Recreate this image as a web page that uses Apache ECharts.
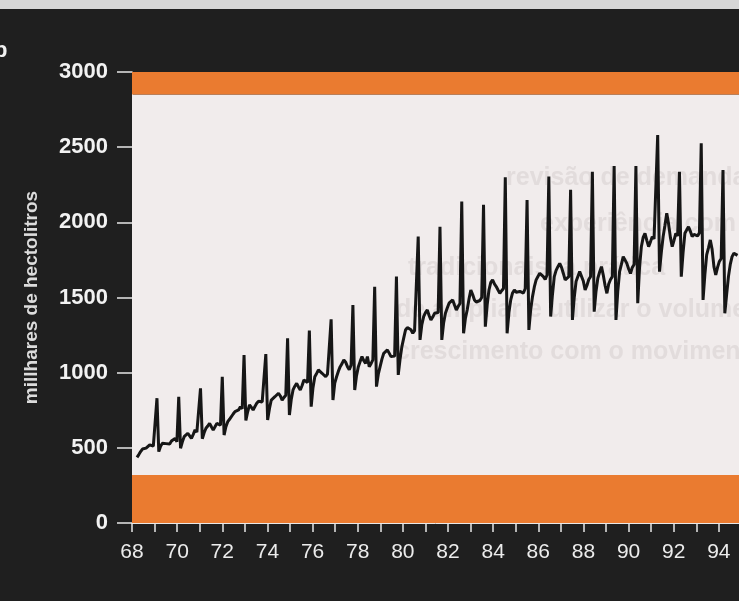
<!DOCTYPE html>
<html>
<head>
<meta charset="utf-8">
<script src="https://cdn.jsdelivr.net/npm/echarts@6/dist/echarts.min.js"></script>
<style>
  html, body { margin: 0; padding: 0; background: #1f1f1f; }
  #chart { width: 739px; height: 601px; }
</style>
</head>
<body>
<div id="chart"></div>
<script>
// monthly production, Jan..Dec, thousand hectolitres
const p1968 = [437, 455, 475, 492, 505, 498, 510, 520, 519, 512, 508, 830];
const p1969 = [475, 510, 530, 541, 528, 519, 525, 545, 552, 563, 541, 840];
const p1970 = [497, 540, 574, 585, 597, 580, 563, 590, 619, 605, 597, 896];
const p1971 = [560, 600, 630, 645, 663, 640, 619, 640, 663, 670, 650, 973];
const p1972 = [585, 640, 674, 690, 707, 725, 741, 730, 752, 774, 760, 1118];
const p1973 = [682, 740, 785, 770, 752, 775, 796, 810, 818, 805, 796, 1124];
const p1974 = [685, 760, 818, 830, 840, 850, 863, 845, 818, 835, 850, 1229];
const p1975 = [718, 820, 885, 910, 929, 905, 885, 915, 951, 940, 935, 1280];
const p1976 = [774, 900, 973, 995, 1018, 1005, 996, 985, 973, 990, 1000, 1355];
const p1977 = [818, 930, 973, 1010, 1040, 1060, 1085, 1070, 1040, 1020, 1050, 1450];
const p1978 = [885, 980, 1040, 1075, 1107, 1080, 1062, 1107, 1040, 1060, 1085, 1572];
const p1979 = [907, 990, 1040, 1090, 1129, 1140, 1151, 1130, 1107, 1120, 1110, 1639];
const p1980 = [985, 1090, 1173, 1230, 1284, 1300, 1306, 1285, 1262, 1280, 1270, 1905];
const p1981 = [1218, 1320, 1373, 1400, 1417, 1380, 1350, 1370, 1395, 1385, 1400, 1971];
const p1982 = [1218, 1330, 1395, 1430, 1462, 1475, 1484, 1450, 1417, 1440, 1460, 2138];
const p1983 = [1262, 1360, 1417, 1490, 1550, 1520, 1484, 1470, 1462, 1480, 1500, 2116];
const p1984 = [1306, 1450, 1550, 1600, 1617, 1590, 1573, 1550, 1528, 1545, 1560, 2300];
const p1985 = [1262, 1400, 1484, 1530, 1550, 1535, 1528, 1540, 1550, 1530, 1560, 2149];
const p1986 = [1284, 1420, 1506, 1570, 1617, 1640, 1661, 1650, 1639, 1620, 1650, 2304];
const p1987 = [1373, 1520, 1639, 1680, 1705, 1727, 1700, 1660, 1617, 1630, 1639, 2216];
const p1988 = [1351, 1500, 1606, 1640, 1672, 1660, 1610, 1550, 1580, 1620, 1639, 2337];
const p1989 = [1406, 1540, 1628, 1670, 1705, 1650, 1580, 1528, 1590, 1620, 1639, 2375];
const p1990 = [1351, 1540, 1672, 1720, 1772, 1760, 1727, 1690, 1660, 1700, 1720, 2375];
const p1991 = [1462, 1700, 1838, 1900, 1927, 1880, 1838, 1870, 1905, 1890, 1900, 2581];
const p1992 = [1672, 1800, 1905, 1980, 2060, 1990, 1900, 1838, 1880, 1927, 1910, 2337];
const p1993 = [1639, 1800, 1927, 1950, 1971, 1940, 1905, 1920, 1927, 1910, 1930, 2526];
const p1994 = [1484, 1650, 1783, 1830, 1883, 1820, 1705, 1650, 1700, 1740, 1760, 2348];
const p1995 = [1395, 1520, 1639, 1720, 1772, 1794, 1800, 1780];

const yearly = [p1968, p1969, p1970, p1971, p1972, p1973, p1974, p1975, p1976, p1977,
  p1978, p1979, p1980, p1981, p1982, p1983, p1984, p1985, p1986, p1987,
  p1988, p1989, p1990, p1991, p1992, p1993, p1994, p1995];

const bandLow = 320;    // orange band bottom
const bandHigh = 2850;  // orange band top

// faint text showing through from the other side of the page
const ghostLines = [
  { text: 'revisão de demanda é', x: 506, y: 166 },
  { text: 'experiência com', x: 540, y: 212 },
  { text: 'tradicionais, a prática', x: 408, y: 256 },
  { text: 'de ampliar e utilizar o volume', x: 396, y: 298 },
  { text: 'crescimento com o movimento', x: 396, y: 340 }
];

let seriesData = [];
for (let y = 0; y < yearly.length; y++) {
  for (let m = 0; m < yearly[y].length; m++) {
    seriesData.push([68 + y + m / 12, yearly[y][m]]);
  }
}

const chart = echarts.init(document.getElementById('chart'));

chart.setOption({
  backgroundColor: '#1f1f1f',
  animation: false,
  grid: { left: 132, top: 72, width: 632, height: 451, outerBoundsMode: 'none', containLabel: false },
  graphic: [
    { type: 'rect', left: 0, top: 0, shape: { width: 739, height: 9 }, style: { fill: '#d6d6d6' } },
    { type: 'text', left: -6, top: 40, style: { text: 'b', fill: '#f0f0f0', font: 'bold 22px "Liberation Sans"' } }
  ].concat(ghostLines.map(function (g) {
    return {
      type: 'text', left: g.x, top: g.y, z: 2,
      style: { text: g.text, fill: '#e2dcdc', font: 'bold 25px "Liberation Sans"' }
    };
  })),
  xAxis: [
    {
      type: 'value', min: 68, max: 96, interval: 1,
      axisLine: { show: true, lineStyle: { color: '#e8e8e8', width: 1 } },
      axisTick: { show: true, length: 9, lineStyle: { color: '#e8e8e8', width: 1.5 } },
      axisLabel: {
        color: '#ececec', fontSize: 21, margin: 19,
        fontFamily: 'Liberation Sans',
        formatter: function (v) { return v % 2 === 0 ? String(v) : ''; }
      },
      splitLine: { show: false }
    },
    {
      // data axis: the printed curve is drawn slightly narrower than the ticks
      type: 'value', min: 67.77, max: 96.8, show: false
    }
  ],
  yAxis: {
    type: 'value', min: 0, max: 3000, interval: 500,
    name: 'millhares de hectolitros',
    nameLocation: 'middle', nameGap: 91, nameRotate: 90,
    nameTextStyle: { color: '#dcdcdc', fontSize: 19, fontWeight: 'bold', fontFamily: 'Liberation Sans' },
    axisLine: { show: true, lineStyle: { color: '#e8e8e8', width: 1 } },
    axisTick: { show: true, length: 15, lineStyle: { color: '#e8e8e8', width: 1.5 } },
    axisLabel: {
      color: '#f2f2f2', fontSize: 22, fontWeight: 'bold', margin: 24, fontFamily: 'Liberation Sans',
      formatter: function (v) { return String(v); }
    },
    splitLine: { show: false }
  },
  series: [
    {
      // background bands
      type: 'line',
      xAxisIndex: 1,
      data: [],
      z: 1,
      markArea: {
        silent: true,
        data: [
          [{ yAxis: 0, itemStyle: { color: '#ea7b30' } }, { yAxis: bandLow }],
          [{ yAxis: bandLow, itemStyle: { color: '#f1ecec' } }, { yAxis: bandHigh }],
          [{ yAxis: bandHigh, itemStyle: { color: '#ea7b30' } }, { yAxis: 3000 }]
        ]
      }
    },
    {
      type: 'line',
      xAxisIndex: 1,
      data: seriesData,
      showSymbol: false,
      lineStyle: { color: '#161616', width: 3 },
      z: 3
    }
  ]
});
</script>
</body>
</html>
